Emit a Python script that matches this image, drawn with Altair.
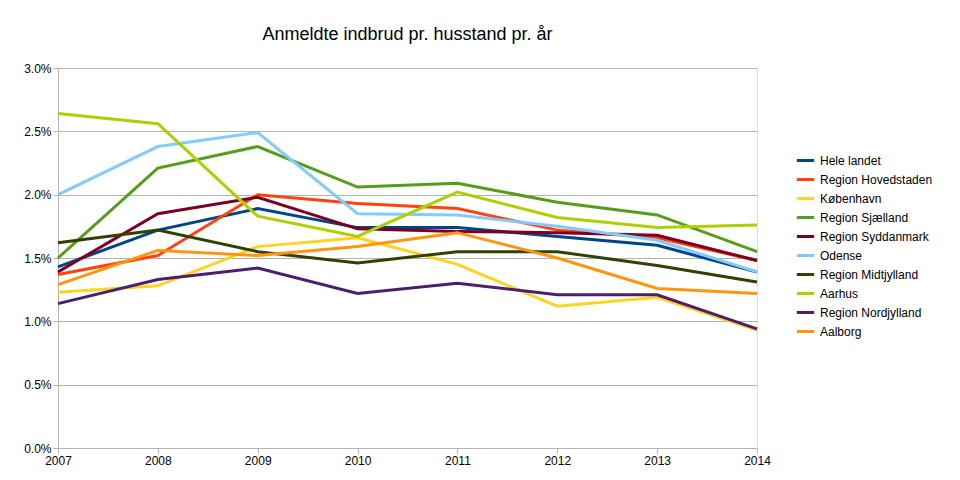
import altair as alt
import pandas as pd

years = [2007, 2008, 2009, 2010, 2011, 2012, 2013, 2014]
series = {
    "Hele landet": [1.43, 1.72, 1.89, 1.74, 1.74, 1.67, 1.60, 1.39],
    "Region Hovedstaden": [1.37, 1.52, 2.00, 1.93, 1.89, 1.72, 1.66, 1.48],
    "København": [1.23, 1.28, 1.59, 1.66, 1.45, 1.12, 1.19, 0.93],
    "Region Sjælland": [1.50, 2.21, 2.38, 2.06, 2.09, 1.94, 1.84, 1.55],
    "Region Syddanmark": [1.39, 1.85, 1.98, 1.73, 1.71, 1.70, 1.68, 1.48],
    "Odense": [2.00, 2.38, 2.49, 1.85, 1.84, 1.75, 1.64, 1.39],
    "Region Midtjylland": [1.62, 1.72, 1.55, 1.46, 1.55, 1.55, 1.44, 1.31],
    "Aarhus": [2.64, 2.56, 1.83, 1.67, 2.02, 1.82, 1.74, 1.76],
    "Region Nordjylland": [1.14, 1.33, 1.42, 1.22, 1.30, 1.21, 1.21, 0.94],
    "Aalborg": [1.29, 1.56, 1.52, 1.59, 1.70, 1.50, 1.26, 1.22],
}
colors = ["#004586", "#ff420e", "#ffd320", "#579d1c", "#7e0021",
          "#83caff", "#314004", "#aecf00", "#4b1f6f", "#ff950e"]

rows = []
for name, vals in series.items():
    for y, v in zip(years, vals):
        rows.append({"år": y, "serie": name, "værdi": v / 100})
df = pd.DataFrame(rows)

chart = alt.Chart(df).mark_line(strokeWidth=3).encode(
    x=alt.X("år:Q", scale=alt.Scale(domain=[2007, 2014], nice=False),
            axis=alt.Axis(format="d", values=years, grid=False, labelFlush=False,
                          title=None, labelColor="black", labelFontSize=12,
                          domainColor="#b3b3b3", tickColor="#b3b3b3")),
    y=alt.Y("værdi:Q", scale=alt.Scale(domain=[0, 0.03]),
            axis=alt.Axis(format=".1%", values=[0, 0.005, 0.01, 0.015, 0.02, 0.025, 0.03],
                          title=None, labelColor="black", labelFontSize=12,
                          gridColor="#b3b3b3", domainColor="#b3b3b3", tickColor="#b3b3b3")),
    color=alt.Color("serie:N", sort=list(series.keys()),
                    scale=alt.Scale(domain=list(series.keys()), range=colors),
                    legend=alt.Legend(title=None, symbolType="stroke", symbolStrokeWidth=3,
                                      labelFontSize=12, labelColor="black",
                                      orient="none", legendX=737, legendY=82,
                                      symbolSize=300)),
).properties(
    width=699, height=380,
    padding={"left": 15, "top": 18, "right": 5, "bottom": 5},
    title=alt.Title("Anmeldte indbrud pr. husstand pr. år", fontSize=18,
                    fontWeight="normal", offset=18),
).configure_view(stroke="#b3b3b3").configure(font="Liberation Sans")

chart.save("out.html", embed_options={"renderer": "svg", "actions": False})
